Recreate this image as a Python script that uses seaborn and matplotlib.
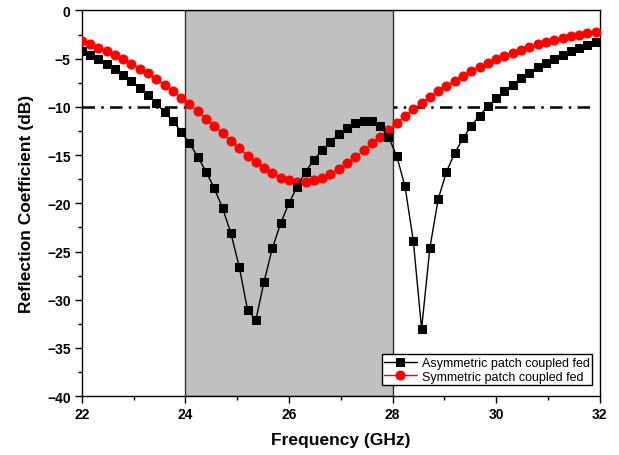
import numpy as np
import pandas as pd
import matplotlib
matplotlib.use("Agg")
import matplotlib.pyplot as plt
import seaborn as sns

# Sampling grid (GHz): markers every 0.16 GHz from 22 to 31.92
freq = np.round(np.linspace(22.0, 31.92, 63), 2)

asym = [-4.19, -4.63, -5.08, -5.53, -6.11, -6.70, -7.33, -8.05, -8.81, -9.64,
        -10.57, -11.47, -12.58, -13.77, -15.17, -16.73, -18.45, -20.52, -23.11, -26.57,
        -31.03, -32.12, -28.12, -24.66, -22.07, -20.00, -18.26, -16.73, -15.51, -14.48,
        -13.62, -12.85, -12.20, -11.71, -11.44, -11.50, -12.00, -13.10, -15.10, -18.25,
        -23.88, -33.03, -24.63, -19.59, -16.73, -14.79, -13.25, -11.96, -10.90, -9.95,
        -9.12, -8.36, -7.69, -7.05, -6.45, -5.91, -5.41, -5.01, -4.63, -4.25,
        -3.91, -3.62, -3.32]

sym = [-3.21, -3.52, -3.88, -4.25, -4.63, -5.08, -5.53, -6.05, -6.53, -7.12,
       -7.71, -8.33, -9.06, -9.75, -10.47, -11.23, -11.99, -12.75, -13.51, -14.30,
       -15.07, -15.72, -16.34, -16.89, -17.35, -17.62, -17.76, -17.76, -17.58, -17.35,
       -16.93, -16.45, -15.85, -15.23, -14.51, -13.78, -13.08, -12.38, -11.66, -10.95,
       -10.26, -9.61, -8.95, -8.36, -7.81, -7.30, -6.78, -6.29, -5.84, -5.43,
       -5.08, -4.73, -4.38, -4.07, -3.78, -3.50, -3.26, -3.06, -2.85, -2.68,
       -2.51, -2.38, -2.28]

labels = ["Asymmetric patch coupled fed", "Symmetric patch coupled fed"]
band = [24, 28]
threshold = -10
xticks = [22, 24, 26, 28, 30, 32]
yticks = [0, -5, -10, -15, -20, -25, -30, -35, -40]

sns.set_theme(style="ticks")
plt.rcParams['font.family'] = ['Liberation Sans', 'DejaVu Sans']
plt.rcParams.update({"text.color": "black", "axes.labelcolor": "black",
                     "xtick.color": "black", "ytick.color": "black",
                     "xtick.labelcolor": "black", "ytick.labelcolor": "black"})

fig = plt.figure(figsize=(6.19, 4.56), dpi=100)
ax = fig.add_axes([0.132, 0.129, 0.837, 0.846])

df = pd.DataFrame({"freq": freq, "asym": asym, "sym": sym})

# -10 dB reference line (behind shaded band)
ax.axhline(threshold, xmin=0, xmax=0.986, color="black", lw=1.8,
           linestyle=(0, (5, 2.5, 1, 2.5)), zorder=1)
# shaded band
ax.axvspan(band[0], band[1], facecolor="#c0c0c0", edgecolor="#333333",
           linewidth=1.0, zorder=2)

sns.lineplot(data=df, x="freq", y="asym", ax=ax, color="black", lw=1.0,
             marker="s", markersize=5.3, markeredgecolor="black",
             markerfacecolor="black", label=labels[0], zorder=4)
sns.lineplot(data=df, x="freq", y="sym", ax=ax, color="red", lw=1.0,
             marker="o", markersize=6.5, markeredgecolor="red",
             markerfacecolor="red", label=labels[1], zorder=3)

ax.set_xlim(22, 32)
ax.set_ylim(-40, 0)
ax.set_xticks(xticks)
ax.set_yticks(yticks)
ax.set_xticks(np.arange(23, 32, 2), minor=True)
ax.set_yticks(np.arange(-37.5, 0, 5), minor=True)
ax.tick_params(axis="both", which="major", direction="out", length=5, width=1,
               labelsize=10, color="black", labelcolor="black", pad=3)
ax.tick_params(axis="both", which="minor", direction="out", length=3, width=1,
               color="black")
for lab in ax.get_xticklabels() + ax.get_yticklabels():
    lab.set_fontweight("bold")

for s in ax.spines.values():
    s.set_visible(True)
    s.set_color("black")
    s.set_linewidth(1.0)

ax.set_xlabel("Frequency (GHz)", fontsize=12.5, fontweight="bold", labelpad=8,
              color="black")
ax.set_ylabel("Reflection Coefficient (dB)", fontsize=12.5, fontweight="bold",
              labelpad=9, color="black")

leg = ax.legend(loc="lower right", bbox_to_anchor=(0.985, 0.028), fontsize=9,
                frameon=True, fancybox=False, edgecolor="black", framealpha=1,
                borderpad=0.2, handlelength=2.6, handletextpad=0.4,
                labelspacing=0.15, borderaxespad=0)
leg.get_frame().set_linewidth(1.0)
for t in leg.get_texts():
    t.set_color("black")

fig.savefig("out.png", dpi=100)
